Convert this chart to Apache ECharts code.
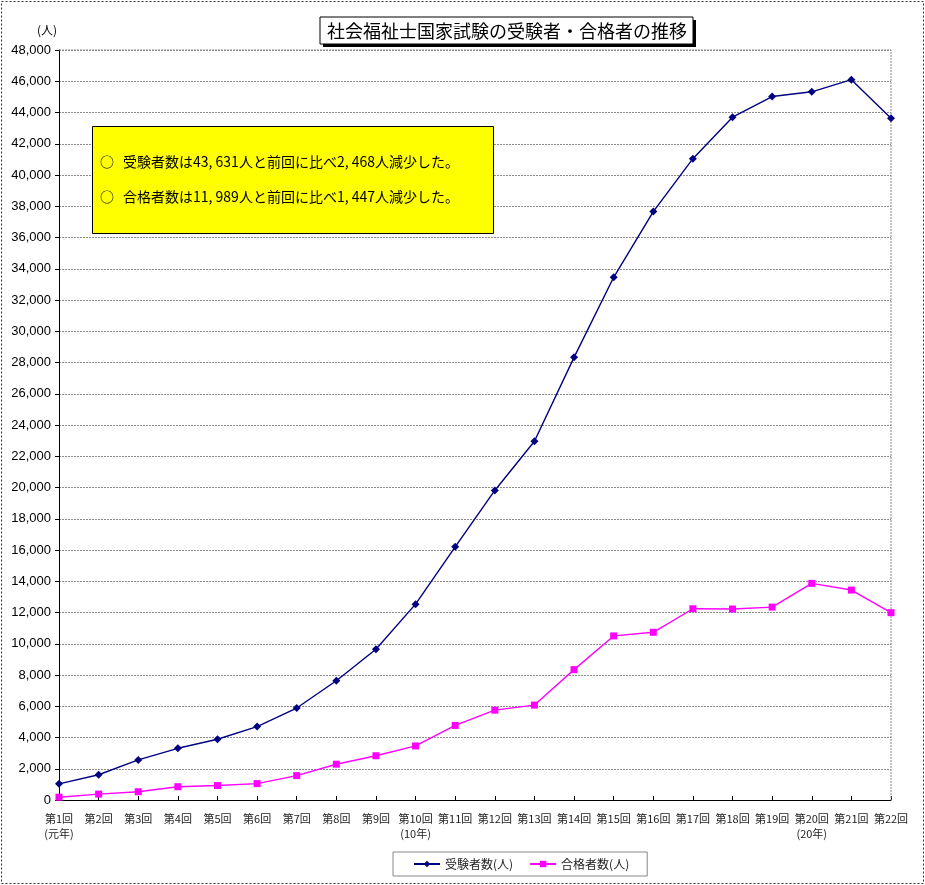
<!DOCTYPE html>
<html>
<head>
<meta charset="utf-8">
<script src="https://cdn.jsdelivr.net/npm/echarts@6/dist/echarts.min.js"></script>
<style>html,body{margin:0;padding:0;background:#fff}#c{width:925px;height:885px}</style>
</head>
<body>
<div id="c"></div>
<script>
const categories = ['第1回\n(元年)','第2回','第3回','第4回','第5回','第6回','第7回','第8回','第9回','第10回\n(10年)','第11回','第12回','第13回','第14回','第15回','第16回','第17回','第18回','第19回','第20回\n(20年)','第21回','第22回'];
const examinees = [1033,1617,2565,3309,3886,4698,5887,7633,9649,12535,16206,19812,22962,28329,33452,37657,41044,43701,45022,45324,46099,43631];
const passers = [180,378,528,850,924,1049,1560,2291,2832,3460,4774,5749,6074,8343,10501,10733,12241,12222,12345,13865,13436,11989];
const seriesNames = ['受験者数(人)','合格者数(人)'];
const titleText = '社会福祉士国家試験の受験者・合格者の推移';
const noteLines = ['受験者数は43, 631人と前回に比べ2, 468人減少した。','合格者数は11, 989人と前回に比べ1, 447人減少した。'];

const jp = '"Noto Sans CJK JP", sans-serif';
const chart = echarts.init(document.getElementById('c'), null, {renderer:'canvas'});
chart.setOption({
  animation:false,
  backgroundColor:'#fff',
  grid:{left:59,right:34,top:50,bottom:85,containLabel:false},
  xAxis:{
    type:'category', data:categories, boundaryGap:false,
    axisLine:{lineStyle:{color:'#000',width:1}},
    axisTick:{show:true,inside:true,length:4,interval:0,lineStyle:{color:'#000'}},
    axisLabel:{interval:0,fontSize:11,color:'#222',fontFamily:jp,lineHeight:15,margin:11},
    splitLine:{show:false}
  },
  yAxis:{
    type:'value', min:0, max:48000, interval:2000,
    axisLine:{show:true,lineStyle:{color:'#000'}},
    axisTick:{show:true,length:4,lineStyle:{color:'#000'}},
    axisLabel:{fontSize:13,color:'#000',fontFamily:'"Liberation Sans", Arial',margin:8,
      formatter:v=>v.toLocaleString('en-US')},
    splitLine:{show:true,lineStyle:{color:'#8a8a8a',type:[2,1],width:1}}
  },
  legend:{
    bottom:9, left:393, itemWidth:26, itemHeight:8, itemGap:16,
    borderColor:'#888', borderWidth:1, padding:[6,18,6,20],
    textStyle:{fontSize:12,fontFamily:jp,color:'#222'},
    data:seriesNames
  },
  series:[
    {name:seriesNames[0],type:'line',data:examinees,symbol:'diamond',symbolSize:8,
     lineStyle:{color:'#000080',width:1.4},itemStyle:{color:'#000080'}},
    {name:seriesNames[1],type:'line',data:passers,symbol:'rect',symbolSize:7,
     lineStyle:{color:'#ff00ff',width:1.4},itemStyle:{color:'#ff00ff'}}
  ],
  graphic:[
    {type:'rect',shape:{x:1.5,y:1.5,width:922,height:882},style:{fill:null,stroke:'#333',lineWidth:1,lineDash:[2,2]},silent:true,z:0},
    {type:'polyline',shape:{points:[[59,50],[891,50],[891,800]]},style:{stroke:'#8a8a8a',lineWidth:1,lineDash:[2,1],fill:null},z:1},
    {type:'rect',shape:{x:323,y:20,width:373,height:27},style:{fill:'#000'},z:10},
    {type:'rect',shape:{x:320,y:17,width:373,height:27},style:{fill:'#fff',stroke:'#000',lineWidth:1},z:11},
    {type:'text',x:507,y:31,style:{text:titleText,fontSize:18,fontFamily:jp,fill:'#000',align:'center',verticalAlign:'middle'},z:12},
    {type:'text',x:47,y:30,style:{text:'(人)',fontSize:12,fontFamily:jp,fill:'#000',align:'center',verticalAlign:'middle'},z:12},
    {type:'rect',shape:{x:92.5,y:126.5,width:401,height:107},style:{fill:'#ffff00',stroke:'#000',lineWidth:1},z:10},
    {type:'text',x:100,y:162,style:{text:'○',fontSize:14,fontFamily:jp,fill:'#000',verticalAlign:'middle'},z:12},
    {type:'text',x:123,y:162,style:{text:noteLines[0],fontSize:14,fontFamily:jp,fill:'#000',verticalAlign:'middle'},z:12},
    {type:'text',x:100,y:197,style:{text:'○',fontSize:14,fontFamily:jp,fill:'#000',verticalAlign:'middle'},z:12},
    {type:'text',x:123,y:197,style:{text:noteLines[1],fontSize:14,fontFamily:jp,fill:'#000',verticalAlign:'middle'},z:12}
  ]
});
</script>
</body>
</html>
